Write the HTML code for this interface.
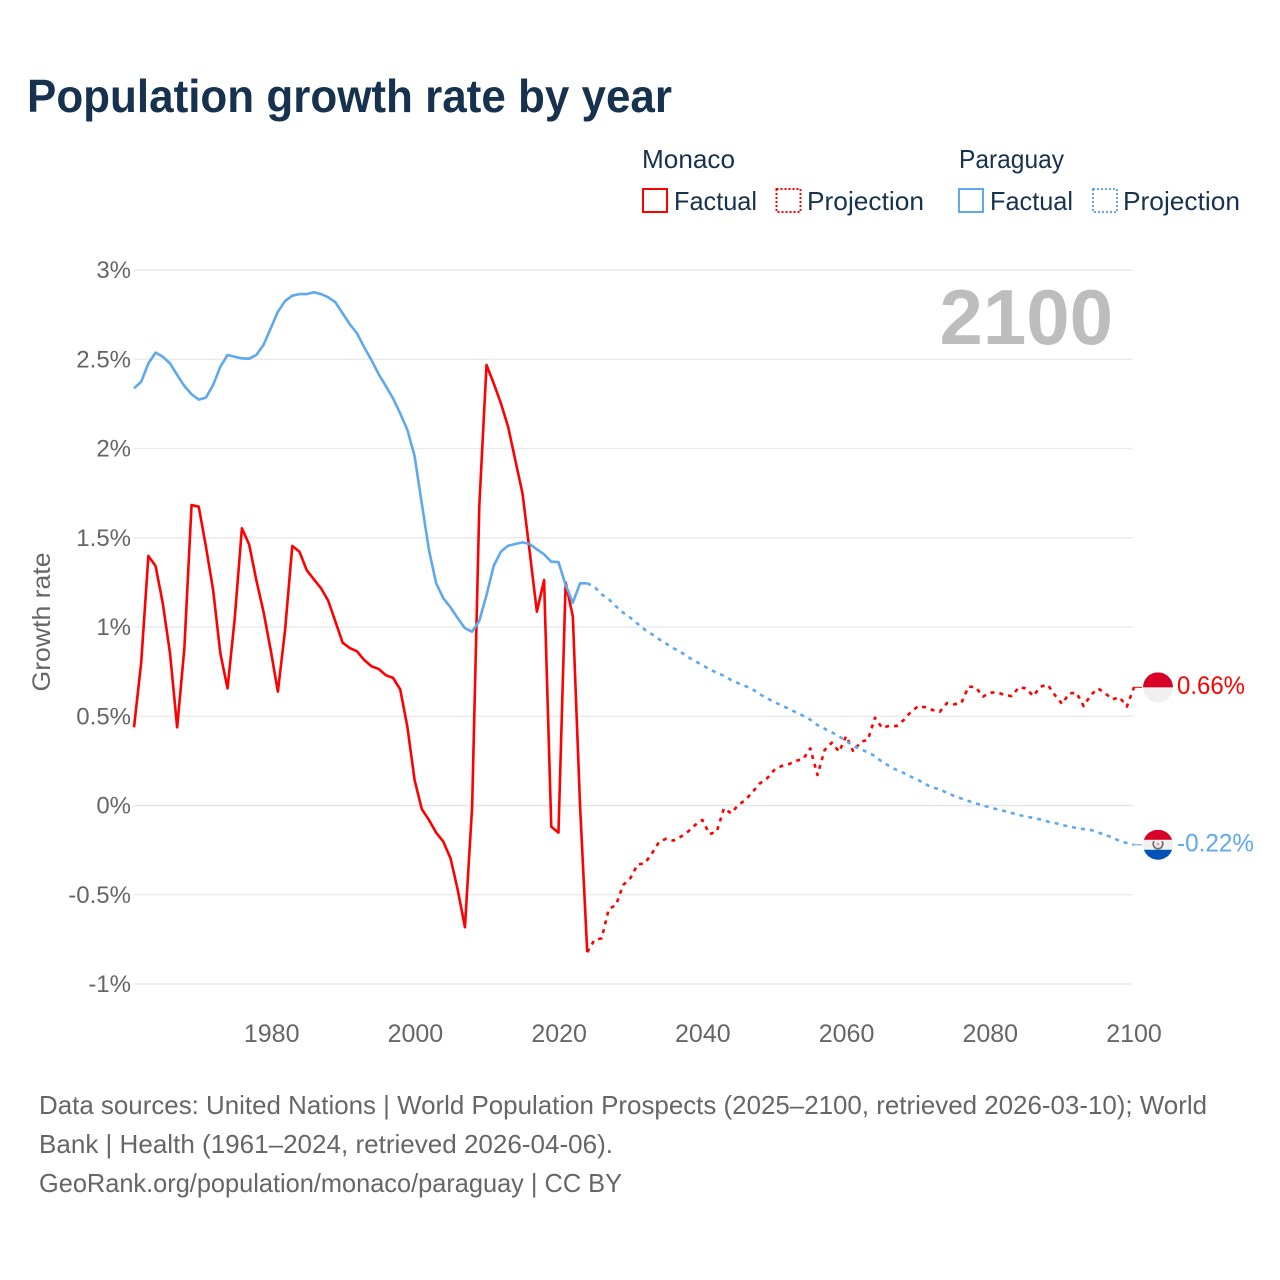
<!DOCTYPE html>
<html lang="en">
<head>
<meta charset="utf-8">
<title>Population growth rate by year</title>
<style>
html,body{margin:0;padding:0;background:#fff;}
svg{display:block;font-family:"Liberation Sans",Arial,sans-serif;}
</style>
</head>
<body>
<svg id="chart" xmlns="http://www.w3.org/2000/svg" width="1280" height="1280" viewBox="0 0 1280 1280">
  <rect width="1280" height="1280" fill="#ffffff"/>
  <text x="27" y="112" font-size="46" font-weight="700" fill="#17324f" textLength="645" lengthAdjust="spacingAndGlyphs">Population growth rate by year</text>

  <g fill="#17324f" font-size="26">
    <text x="642" y="168" textLength="93" lengthAdjust="spacingAndGlyphs">Monaco</text>
    <text x="959" y="168" textLength="105" lengthAdjust="spacingAndGlyphs">Paraguay</text>
    <g>
      <rect x="643" y="189" width="24" height="23" fill="none" stroke="#ff0000" stroke-width="2"/>
      <text x="674" y="210" textLength="83" lengthAdjust="spacingAndGlyphs">Factual</text>
    </g>
    <g>
      <rect x="776.5" y="189" width="24" height="23" fill="none" stroke="#ff0000" stroke-width="2" stroke-dasharray="2 2"/>
      <text x="807" y="210" textLength="117" lengthAdjust="spacingAndGlyphs">Projection</text>
    </g>
    <g>
      <rect x="959" y="189" width="24" height="23" fill="none" stroke="#5fa8ee" stroke-width="2"/>
      <text x="990" y="210" textLength="83" lengthAdjust="spacingAndGlyphs">Factual</text>
    </g>
    <g>
      <rect x="1093" y="189" width="24" height="23" fill="none" stroke="#5fa8ee" stroke-width="2" stroke-dasharray="2 2"/>
      <text x="1123" y="210" textLength="117" lengthAdjust="spacingAndGlyphs">Projection</text>
    </g>
  </g>

  <g id="grid"></g>
  <g id="yticks" fill="#666666" font-size="24" text-anchor="end"></g>
  <g id="xticks" fill="#666666" font-size="25" text-anchor="middle"></g>
  <text transform="translate(50,622) rotate(-90)" text-anchor="middle" fill="#666666" font-size="25" textLength="139" lengthAdjust="spacingAndGlyphs">Growth rate</text>
  <text x="1113" y="344" text-anchor="end" font-size="78" font-weight="700" fill="#bdbdbd">2100</text>
  <g id="series" fill="none" stroke-linejoin="round"></g>
  <g id="ends"></g>

  <g fill="#666666" font-size="26">
    <text x="39" y="1114" textLength="1168" lengthAdjust="spacingAndGlyphs">Data sources: United Nations | World Population Prospects (2025–2100, retrieved 2026-03-10); World</text>
    <text x="39" y="1153" textLength="574" lengthAdjust="spacingAndGlyphs">Bank | Health (1961–2024, retrieved 2026-04-06).</text>
    <text x="39" y="1192" textLength="583" lengthAdjust="spacingAndGlyphs">GeoRank.org/population/monaco/paraguay | CC BY</text>
  </g>
</svg>
<script>
const xTickYears = [1980, 2000, 2020, 2040, 2060, 2080, 2100];
const yTickValues = [3, 2.5, 2, 1.5, 1, 0.5, 0, -0.5, -1];
const factualStartYear = 1961;
const projectionStartYear = 2024;
const monacoFactual = [
  0.438,0.80,1.398,1.342,1.133,0.854,0.438,0.88,1.683,1.674,
  1.45,1.207,0.853,0.656,1.048,1.553,1.463,1.263,1.086,0.871,
  0.638,0.983,1.454,1.422,1.319,1.267,1.217,1.147,1.03,0.912,
  0.882,0.864,0.815,0.78,0.765,0.73,0.715,0.651,0.441,0.143,
  -0.02,-0.081,-0.152,-0.203,-0.296,-0.473,-0.682,-0.007,1.68,2.468,
  2.365,2.253,2.122,1.935,1.749,1.422,1.086,1.263,-0.119,-0.152,
  1.25,1.058,0.0,-0.822
];
const monacoProjection = [
  -0.822,-0.753,-0.744,-0.58,-0.557,-0.445,-0.407,-0.33,-0.324,-0.268,-0.203,
  -0.186,-0.197,-0.175,-0.147,-0.109,-0.081,-0.16,-0.147,-0.016,-0.044,
  0.003,0.031,0.077,0.124,0.152,0.199,0.221,0.231,0.251,0.259,
  0.32,0.171,0.311,0.352,0.301,0.389,0.301,0.357,0.367,0.492,
  0.434,0.447,0.445,0.479,0.525,0.557,0.55,0.535,0.525,0.574,
  0.567,0.574,0.666,0.663,0.61,0.632,0.634,0.619,0.613,0.662,
  0.656,0.613,0.666,0.677,0.619,0.569,0.628,0.632,0.557,0.619,
  0.656,0.628,0.595,0.606,0.554,0.662
];
const paraguayFactual = [
  2.337,2.374,2.477,2.537,2.514,2.477,2.412,2.35,2.304,2.274,
  2.285,2.356,2.458,2.524,2.514,2.505,2.503,2.524,2.58,2.673,
  2.766,2.826,2.856,2.865,2.865,2.875,2.865,2.847,2.819,2.757,
  2.696,2.645,2.567,2.496,2.417,2.35,2.281,2.197,2.104,1.958,
  1.693,1.431,1.245,1.161,1.11,1.049,0.993,0.974,1.035,1.179,
  1.343,1.422,1.455,1.465,1.474,1.465,1.435,1.407,1.366,1.364,
  1.235,1.136,1.245,1.245
];
const paraguayProjection = [
  1.245,1.226,1.183,1.155,1.116,1.08,1.052,1.018,0.985,0.959,0.931,
  0.906,0.881,0.86,0.832,0.808,0.787,0.763,0.744,0.727,0.703,
  0.685,0.669,0.651,0.623,0.6,0.58,0.561,0.542,0.522,0.503,
  0.481,0.451,0.43,0.41,0.387,0.361,0.333,0.315,0.298,0.277,
  0.244,0.221,0.199,0.182,0.161,0.143,0.12,0.1,0.092,0.07,
  0.054,0.039,0.025,0.012,0.0,-0.011,-0.022,-0.031,-0.042,-0.053,
  -0.062,-0.07,-0.078,-0.09,-0.098,-0.109,-0.118,-0.126,-0.132,-0.137,
  -0.151,-0.165,-0.179,-0.199,-0.21,-0.22
];

const NS = 'http://www.w3.org/2000/svg';
const xScale = year => 134 + (year - 1961) * (1000 / 139);
const yScale = v => 805.5 - v * 178.5;
const make = (tag, parent) => {
  const el = document.createElementNS(NS, tag);
  parent.appendChild(el);
  return el;
};

const gridG = document.getElementById('grid');
const yG = document.getElementById('yticks');
yTickValues.forEach(v => {
  const line = make('line', gridG);
  
  
  line.setAttribute('x1', 134);
  line.setAttribute('x2', 1133);
  line.setAttribute('y1', yScale(v));
  line.setAttribute('y2', yScale(v));
  line.setAttribute('stroke', v === 0 ? '#e6e6e6' : '#ebebeb');
  line.setAttribute('stroke-width', 1.5);
  const t = make('text', yG);
  
  
  t.setAttribute('x', 131);
  t.setAttribute('y', yScale(v) + 8);
  t.textContent = v + '%';
});

const xG = document.getElementById('xticks');
xTickYears.forEach(year => {
  const t = make('text', xG);
  
  
  t.setAttribute('x', xScale(year) + (2100 - year) / 120);
  t.setAttribute('y', 1042);
  t.textContent = year;
});

const seriesG = document.getElementById('series');
function drawLine(values, startYear, color, dashed, name) {
  const d = values.map((v, i) => (i ? 'L' : 'M') + xScale(startYear + i).toFixed(2) + ' ' + yScale(v).toFixed(2)).join('');
  const p = make('path', seriesG);
  
  
  p.setAttribute('d', d);
  p.setAttribute('stroke', color);
  p.setAttribute('stroke-width', 2.6);
  if (dashed) p.setAttribute('stroke-dasharray', '4 5');
}
const RED = '#ff0000';
const BLUE = '#5fa8ee';
drawLine(monacoProjection, projectionStartYear, RED, true, 'monaco-projection-line');
drawLine(monacoFactual, factualStartYear, RED, false, 'monaco-factual-line');
drawLine(paraguayProjection, projectionStartYear, BLUE, true, 'paraguay-projection-line');
drawLine(paraguayFactual, factualStartYear, BLUE, false, 'paraguay-factual-line');

const endsG = document.getElementById('ends');
function drawEnd(values, color, country, bands, hasEmblem) {
  const v = values[values.length - 1];
  const cy = yScale(v);
  const cx = 1158;
  const g = make('g', endsG);
  
  

  const stub = make('line', g);
  
  
  stub.setAttribute('x1', 1133);
  stub.setAttribute('x2', 1142);
  stub.setAttribute('y1', cy);
  stub.setAttribute('y2', cy);
  stub.setAttribute('stroke', color);
  stub.setAttribute('stroke-width', 1);

  const clipId = 'clip-' + country;
  const clip = make('clipPath', g);
  clip.setAttribute('id', clipId);
  const cc = make('circle', clip);
  cc.setAttribute('cx', cx);
  cc.setAttribute('cy', cy);
  cc.setAttribute('r', 15);

  const flag = make('g', g);
  
  
  flag.setAttribute('clip-path', 'url(#' + clipId + ')');
  const bandH = 30 / bands.length;
  bands.forEach((c, i) => {
    const r = make('rect', flag);
    
    
    r.setAttribute('x', cx - 15);
    r.setAttribute('y', cy - 15 + i * bandH);
    r.setAttribute('width', 30);
    r.setAttribute('height', bandH + 0.3);
    r.setAttribute('fill', c);
  });
  if (hasEmblem) {
    const ring = make('path', flag);
    
    
    ring.setAttribute('d', `M${cx - 4} ${cy - 3.5} A4.8 4.8 0 1 0 ${cx + 4} ${cy - 3.5}`);
    ring.setAttribute('fill', 'none');
    ring.setAttribute('stroke', '#6f6f6f');
    ring.setAttribute('stroke-width', 1.8);
    const star = make('circle', flag);
    
    
    star.setAttribute('cx', cx);
    star.setAttribute('cy', cy - 0.5);
    star.setAttribute('r', 1.5);
    star.setAttribute('fill', '#f3a0a8');
  }

  const label = make('text', g);
  
  
  label.setAttribute('x', 1177);
  label.setAttribute('y', cy + 6.5);
  label.setAttribute('fill', color);
  label.setAttribute('font-size', 25);
  label.setAttribute('textLength', v < 0 ? 77 : 68);
  label.setAttribute('lengthAdjust', 'spacingAndGlyphs');
  label.textContent = v.toFixed(2) + '%';
}
drawEnd(monacoProjection, RED, 'monaco', ['#d80027', '#f0f0f0'], false);
drawEnd(paraguayProjection, BLUE, 'paraguay', ['#d80027', '#f0f0f0', '#0052b4'], true);
</script>
</body>
</html>
